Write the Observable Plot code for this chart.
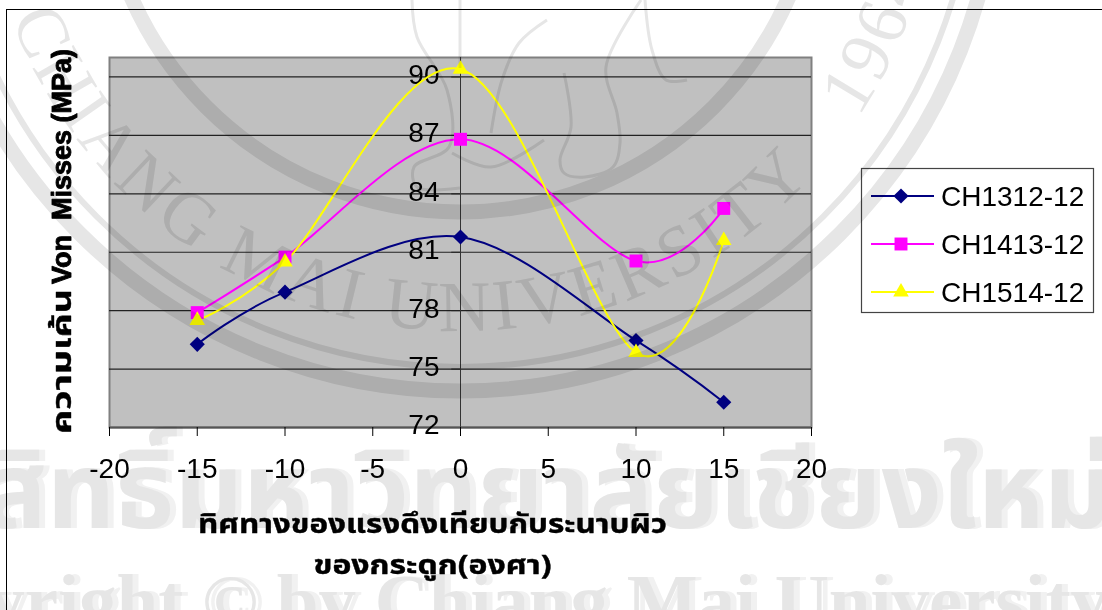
<!DOCTYPE html>
<html>
<head>
<meta charset="utf-8">
<script src="https://cdn.jsdelivr.net/npm/d3@7"></script>
<script src="https://cdn.jsdelivr.net/npm/@observablehq/plot@0.6"></script>
<style>
  html, body { margin: 0; padding: 0; background: #fff; }
  #page { position: relative; width: 1102px; height: 610px; overflow: hidden; background: #fff; isolation: isolate; }
  #page > * { position: absolute; left: 0; top: 0; }
  #border { left: 6px; top: 9px; width: 1200px; height: 700px; border-left: 1.5px solid #000; border-top: 1.5px solid #000; }
  #seal { mix-blend-mode: multiply; pointer-events: none; }
</style>
</head>
<body>
<div id="page"><div id="border"></div></div>
<script>
// Angle of the pulling force against the bone surface plane (degrees)
const angles = [-15, -10, 0, 10, 15];

// Von Mises stress (MPa) for each screw type
const ch1312 = [76.27, 78.95, 81.78, 76.47, 73.3];
const ch1413 = [77.9, 80.75, 86.8, 80.55, 83.25];
const ch1514 = [77.5, 80.5, 90.4, 75.85, 81.6];

const seriesNames = ["CH1312-12", "CH1413-12", "CH1514-12"];
const seriesColors = ["#000080", "#ff00ff", "#ffff00"];
const seriesSymbols = ["diamond2", "square", "triangle"];
const seriesRadius = [6.8, 7.3, 5.8];

const xTicks = [-20, -15, -10, -5, 0, 5, 10, 15, 20];
const yTicks = [72, 75, 78, 81, 84, 87, 90];

const yTitleThai = "ความเค้น";
const yTitleLatin = "Von  Misses (MPa)";
const xTitleLines = ["ทิศทางของแรงดึงเทียบกับระนาบผิว", "ของกระดูก(องศา)"];

const rows = [ch1312, ch1413, ch1514].flatMap((values, s) =>
  values.map((v, i) => ({angle: angles[i], stress: v, series: seriesNames[s]}))
);
const font = "'Liberation Sans', Arial, sans-serif";
const thaiFont = "'Noto Sans Thai', 'Noto Sans', " + font;
const smooth = d3.curveCardinal.tension(0);

const chart = Plot.plot({
  width: 1102,
  height: 610,
  marginLeft: 109,
  marginRight: 291,
  marginTop: 57,
  marginBottom: 183,
  style: {background: "transparent", fontFamily: font},
  x: {domain: [-20, 20], ticks: xTicks, tickFormat: String, label: null},
  y: {domain: [72, 91], axis: null, label: null},
  marks: [
    Plot.frame({fill: "#c0c0c0", stroke: "#808080", strokeWidth: 2}),
    Plot.ruleY(yTicks.slice(1), {stroke: "#222", strokeWidth: 1.2}),
    Plot.ruleX([0], {stroke: "#333", strokeWidth: 1}),
    Plot.ruleY(yTicks, {x1: -0.5, x2: 0, stroke: "#222", strokeWidth: 1}),
    Plot.ruleY([72], {stroke: "#555", strokeWidth: 2}),
    Plot.axisX({ticks: xTicks, tickFormat: String, tickSize: 9, tickPadding: 22, fontSize: 28, stroke: "#000", label: null}),
    Plot.text(yTicks, {x: 0, y: d => d, text: String, dx: -21, dy: -2, textAnchor: "end", fontSize: 28, fill: "#000"}),
    ...seriesNames.map((name, s) =>
      Plot.line(rows.filter(d => d.series === name), {x: "angle", y: "stress", stroke: seriesColors[s], strokeWidth: 2, curve: smooth})
    ),
    ...seriesNames.map((name, s) =>
      Plot.dot(rows.filter(d => d.series === name), {x: "angle", y: "stress", symbol: () => seriesSymbols[s], fill: seriesColors[s], stroke: "none", r: seriesRadius[s]})
    ),
    // Axis titles, fitted to their lengths below
    Plot.text([xTitleLines[0]], {className: "title-x1", frameAnchor: "bottom", dx: -28, dy: 105, fontSize: 27, fontWeight: "bold", fill: "#000", stroke: "#000", strokeWidth: 0.4, fontFamily: thaiFont}),
    Plot.text([xTitleLines[1]], {className: "title-x2", frameAnchor: "bottom", dx: -28, dy: 146, fontSize: 27, fontWeight: "bold", fill: "#000", stroke: "#000", strokeWidth: 0.4, fontFamily: thaiFont}),
    Plot.text([yTitleThai], {className: "title-y1", frameAnchor: "left", textAnchor: "middle", dx: -47, dy: 119, rotate: -90, fontSize: 27, fontWeight: "bold", fill: "#000", stroke: "#000", strokeWidth: 0.4, fontFamily: thaiFont}),
    Plot.text([yTitleLatin], {className: "title-y2", frameAnchor: "left", textAnchor: "middle", dx: -47, dy: -76, rotate: -90, fontSize: 27, fontWeight: 700, fill: "#000", stroke: "#000", strokeWidth: 0.9, fontFamily: "Liberation Sans"})
  ]
});
[["title-x1", 469], ["title-x2", 238], ["title-y1", 145]].forEach(([cls, length]) => {
  const t = chart.querySelector(`.${cls} text`);
  t.setAttribute("textLength", length);
  t.setAttribute("lengthAdjust", "spacingAndGlyphs");
});
document.getElementById("page").append(chart);

// Legend box on the right, drawn with the same symbols as the series
const legend = d3.create("svg").attr("width", 1102).attr("height", 610);
legend.append("rect").attr("x", 861.5).attr("y", 168.5).attr("width", 232).attr("height", 144)
  .attr("fill", "#fff").attr("stroke", "#444").attr("stroke-width", 1.2);
const symbolTypes = [d3.symbolDiamond2, d3.symbolSquare, d3.symbolTriangle];
seriesNames.forEach((name, i) => {
  const y = 196 + i * 48;
  legend.append("line").attr("x1", 871).attr("x2", 934).attr("y1", y).attr("y2", y)
    .attr("stroke", seriesColors[i]).attr("stroke-width", 2);
  legend.append("path").attr("transform", `translate(901,${y})`)
    .attr("d", d3.symbol(symbolTypes[i], Math.PI * seriesRadius[i] ** 2)())
    .attr("fill", seriesColors[i]);
  legend.append("text").attr("x", 941).attr("y", y).attr("dy", "0.35em")
    .attr("font-family", font).attr("font-size", 28).text(name);
});
document.getElementById("page").append(legend.node());

// University seal and copyright lines printed over the page
const cx = 460, cy = -147;
const seal = d3.create("svg").attr("id", "seal").attr("width", 1102).attr("height", 610);
const ink = "#e6e6e6";
[[359, 15], [514, 6], [538, 15]].forEach(([r, w]) => {
  seal.append("circle").attr("cx", cx).attr("cy", cy).attr("r", r)
    .attr("fill", "none").attr("stroke", ink).attr("stroke-width", w);
});
const polar = (r, deg) => [cx + r * Math.cos(deg * Math.PI / 180), cy + r * Math.sin(deg * Math.PI / 180)];
const arcPath = (r, from, to) => {
  const [x0, y0] = polar(r, from), [x1, y1] = polar(r, to);
  return `M${x0},${y0} A${r},${r} 0 0 0 ${x1},${y1}`;
};
seal.append("path").attr("id", "ringName").attr("fill", "none").attr("d", arcPath(478, 170, 32));
seal.append("path").attr("id", "ringYear").attr("fill", "none").attr("d", arcPath(478, 40, 8));
[["#ringName", "CHIANG MAI UNIVERSITY", 72, 4.4], ["#ringYear", "1964", 72, 4]].forEach(([href, label, size, spacing]) => {
  seal.append("text").attr("font-family", "'Liberation Serif', serif").attr("font-size", size)
    .attr("letter-spacing", spacing).attr("fill", ink).attr("text-anchor", "middle")
    .append("textPath").attr("href", href).attr("startOffset", "50%").text(label);
});
// Elephant outline at the middle of the seal
const sketch = d3.line().curve(d3.curveCatmullRom);
[
  [[412, 0], [417, 37], [447, 90], [449, 147], [414, 167], [417, 187], [460, 188]],
  [[460, 0], [460, 68]],
  [[547, 20], [519, 43], [502, 80], [491, 133]],
  [[452, 153], [491, 167], [544, 140]],
  [[564, 73], [571, 127], [560, 160], [564, 173], [585, 177], [613, 167], [620, 143], [617, 113], [606, 67], [641, 0]],
  [[645, 0], [652, 50], [666, 80], [687, 80]]
].forEach(pts => {
  seal.append("path").attr("d", sketch(pts)).attr("fill", "none").attr("stroke", ink).attr("stroke-width", 3);
});
// Copyright lines, each with a paler offset copy behind it
const lines = [
  {text: "ลิขสิทธิ์มหาวิทยาลัยเชียงใหม่", x: 1112, y: 528, size: 106},
  {text: "Copyright © by Chiang Mai University", x: 1108, y: 626, size: 75}
];
lines.forEach(l => {
  [["#f1f1f1", 6], [ink, 0]].forEach(([fill, off]) => {
    seal.append("text").attr("x", l.x + off).attr("y", l.y).attr("font-size", l.size)
      .attr("text-anchor", "end").attr("font-weight", "bold").attr("fill", fill)
      .attr("font-family", "'Liberation Serif', 'Noto Sans Thai', serif").text(l.text);
  });
});
document.getElementById("page").append(seal.node());
</script>
</body>
</html>
